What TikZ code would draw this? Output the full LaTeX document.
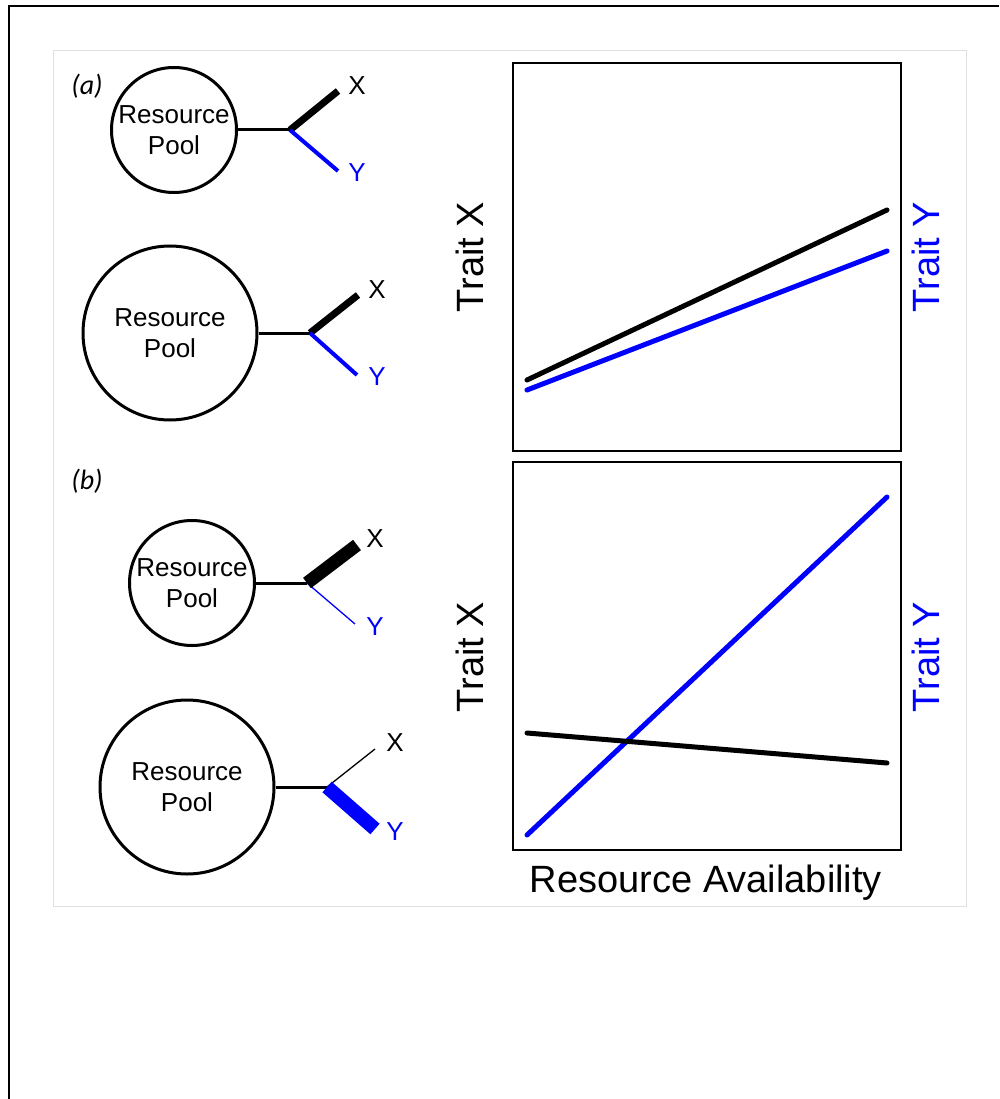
\documentclass[tikz,border=0pt]{standalone}
\usepackage{fontspec}
\setmainfont{Liberation Sans}
\newfontfamily\panelfont{Carlito}
\tikzset{
  pool/.style={circle, draw, line width=3pt, align=center, inner sep=0pt,
    font=\fontsize{26}{31}\selectfont},
  tip/.style={font=\fontsize{26}{31}\selectfont, inner sep=0pt},
  axislabel/.style={font=\fontsize{38}{44}\selectfont, inner sep=0pt, rotate=90},
  panellabel/.style={font=\panelfont\itshape\fontsize{28}{32}\selectfont, inner sep=0pt},
  trend/.style={line width=5pt, line cap=round},
  stalk/.style={line width=3pt},
}
\begin{document}
\begin{tikzpicture}[x=1pt, y=-1pt]
\useasboundingbox (0,0) rectangle (999,1099);
% page frame and figure area
\draw[line width=2pt] (9,1099) -- (9,6) -- (999,6);
\draw[black!12, line width=1pt] (53,51) rectangle (966,906);

% (a) pools split evenly
\node[panellabel] (a) at (87,86) {(a)};
\node[pool, minimum size=125pt] (p1) at (174,130) {Resource\\Pool};
\coordinate (j1) at (290,130);
\coordinate (x1) at (338,91);
\coordinate (y1) at (338,171);
\node[tip] (lx1) at (357,86) {X};
\node[tip, blue] (ly1) at (357,173) {Y};
\draw[stalk] (p1) -- (j1);
\draw[line width=7pt] (j1) -- (x1);
\draw[blue, line width=4pt] (j1) -- (y1);

\node[pool, minimum size=174pt] (p2) at (170,333) {Resource\\Pool};
\coordinate (j2) at (310,333);
\coordinate (x2) at (358,295);
\coordinate (y2) at (357,375);
\node[tip] (lx2) at (377,290) {X};
\node[tip, blue] (ly2) at (377,377) {Y};
\draw[stalk] (p2) -- (j2);
\draw[line width=7pt] (j2) -- (x2);
\draw[blue, line width=4pt] (j2) -- (y2);

% (b) pools split unevenly
\node[panellabel] (b) at (87,481) {(b)};
\node[pool, minimum size=125pt] (p3) at (192,583) {Resource\\Pool};
\coordinate (j3) at (307,583);
\coordinate (x3) at (357,545);
\coordinate (y3) at (355,624);
\node[tip] (lx3) at (375,539) {X};
\node[tip, blue] (ly3) at (375,627) {Y};
\draw[stalk] (p3) -- (j3);
\draw[blue, line width=1.3pt] (j3) -- (y3);
\draw[line width=13pt] (j3) -- (x3);

\node[pool, minimum size=174pt] (p4) at (187,787) {Resource\\Pool};
\coordinate (j4) at (327,787);
\coordinate (x4) at (375,749);
\coordinate (y4) at (375,829);
\node[tip] (lx4) at (395,743) {X};
\node[tip, blue] (ly4) at (395,832) {Y};
\draw[stalk] (p4) -- (j4);
\draw[line width=1.3pt] (j4) -- (x4);
\draw[blue, line width=14pt] (j4) -- (y4);

% trait plots
\draw[line width=2pt] (513,63) rectangle (901,451);
\draw[line width=2pt] (513,462) rectangle (901,850);
\draw[trend] (527,380) -- (887,210);
\draw[trend, blue] (527,390) -- (887,251);
\draw[trend, blue] (527,835) -- (887,497);
\draw[trend] (527,733) -- (887,763);
\foreach \i/\y in {1/257, 2/657}
{
	\node[axislabel] (tx\i) at (470,\y) {Trait X};
	\node[axislabel, blue] (ty\i) at (926,\y) {Trait Y};
}
\node[font=\fontsize{38}{45}\selectfont, inner sep=0pt, anchor=base] (ra) at (706,892) {Resource Availability};
\end{tikzpicture}
\end{document}
